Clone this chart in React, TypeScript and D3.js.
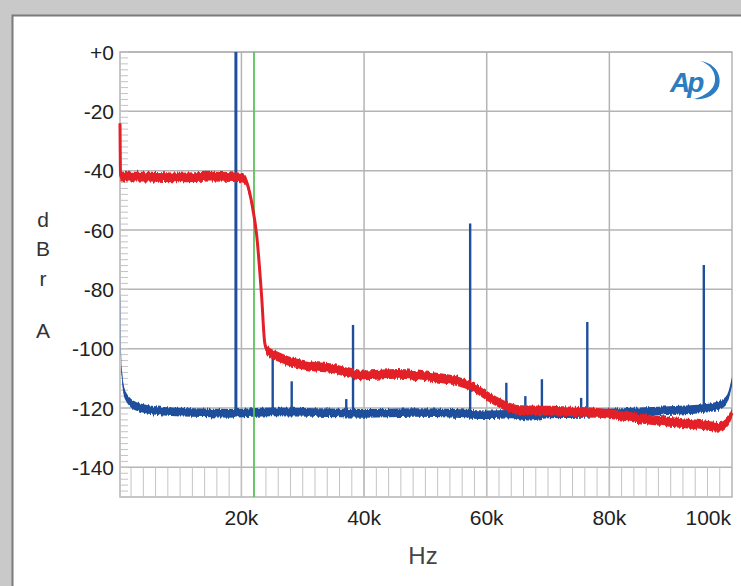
import * as d3 from "d3";

// Frequencies in Hz, levels in dBrA.
const redFreq = [200, 300, 1000, 5000, 10000, 15000, 20000, 20600, 21700, 22500, 23300, 23800, 24200, 26300, 31700, 34400, 39800, 45400, 50800, 55200, 57800, 60500, 63300, 65400, 72400, 78500, 86700, 94800, 98000, 99500, 100000];
const redDb = [-24, -42, -42, -42, -42.3, -42, -42.3, -43, -51, -62, -82.5, -98, -100.5, -103, -106, -106.5, -109, -108.5, -109.5, -111, -113, -116.5, -119.5, -120.7, -121, -121.7, -124, -125.7, -126.4, -124, -121.7];

const blueFreq = [200, 480, 1000, 2900, 6700, 12000, 18000, 25000, 32000, 40000, 48000, 55000, 60000, 64000, 67000, 70000, 76000, 82000, 88000, 95000, 98000, 99200, 100000];
const blueDb = [-82.7, -107.5, -115.5, -119.5, -121, -121.5, -121.8, -121.3, -121.5, -121.8, -121.5, -121.8, -122.3, -122, -122.8, -122, -121.8, -121.5, -121, -120.3, -119, -117, -111];

const spikeFreq = [19100, 25100, 28200, 37100, 38200, 57300, 63200, 66300, 69000, 75400, 76400, 95400];
const spikeDb = [0, -103, -111, -117, -92, -57.8, -111.5, -116, -110.3, -116.6, -91, -71.8];

const cutoffFreq = 22050;

const yTicks = [0, -20, -40, -60, -80, -100, -120, -140];
const yTickLabels = ["+0", "-20", "-40", "-60", "-80", "-100", "-120", "-140"];
const xTicks = [20000, 40000, 60000, 80000, 100000];
const xTickLabels = ["20k", "40k", "60k", "80k", "100k"];
const yLabel = ["d", "B", "r", "A"];

const W = 741;
const H = 586;
const left = 120;
const right = 732;
const top = 52;
const bottom = 497;
const font = "'Liberation Sans', Arial, sans-serif";

export default function App() {
  const x = d3.scaleLinear().domain([200, 100000]).range([left, right]);
  const y = d3.scaleLinear().domain([0, -150]).range([top, bottom]);

  const red = redFreq.map((f, i) => [f, redDb[i]] as [number, number]);
  const blue = blueFreq.map((f, i) => [f, blueDb[i]] as [number, number]);

  // noisy FFT traces look like a band of constant vertical thickness
  const band = (h: number) =>
    d3
      .area<[number, number]>()
      .x((d) => x(d[0]))
      .y0((d) => y(d[1]) - h)
      .y1((d) => y(d[1]) + h)
      .curve(d3.curveMonotoneX);
  const line = d3
    .line<[number, number]>()
    .x((d) => x(d[0]))
    .y((d) => y(d[1]))
    .curve(d3.curveMonotoneX);

  const blueAt = d3.scaleLinear().domain(blueFreq).range(blueDb);

  const minorY = d3.range(0, -151, -2);
  const minorX = d3.range(2000, 100000, 2000);

  return (
    <svg width={W} height={H} style={{ position: "absolute", left: 0, top: 0, background: "#c9c9c9" }}>
      <defs>
        {/* jagged vertical texture of the measured noise */}
        <filter id="fuzz" filterUnits="userSpaceOnUse" x={0} y={0} width={W} height={H}>
          <feTurbulence type="fractalNoise" baseFrequency="0.6 0.02" numOctaves={2} seed={3} result="n" />
          <feColorMatrix in="n" type="matrix" values="0 0 0 0 0.5  0 1 0 0 0  0 0 0 0 0  0 0 0 0 1" result="m" />
          <feDisplacementMap in="SourceGraphic" in2="m" scale={5} xChannelSelector="R" yChannelSelector="G" />
        </filter>
      </defs>
      <rect x={12} y={15} width={W - 12} height={H - 15} fill="#fff" />
      <path d={`M12.5,${H}V15.5H${W}`} fill="none" stroke="#7b7b7b" strokeWidth={2} />

      {/* grid */}
      <g stroke="#b4b4b4" strokeWidth={1.5} fill="none">
        {yTicks.map((t) => (
          <line key={t} x1={left} x2={right} y1={y(t)} y2={y(t)} />
        ))}
        {xTicks.slice(0, 4).map((t) => (
          <line key={t} x1={x(t)} x2={x(t)} y1={top} y2={bottom} />
        ))}
        <rect x={left} y={top} width={right - left} height={bottom - top} />
      </g>
      <g stroke="#c4c4c4" strokeWidth={1}>
        {minorY.map((t) => (
          <line key={t} x1={left} x2={left + 8} y1={y(t)} y2={y(t)} />
        ))}
        {minorX.map((t) => (
          <line key={t} x1={x(t)} x2={x(t)} y1={y(-140)} y2={bottom} />
        ))}
      </g>

      {/* blue trace + spikes */}
      <g filter="url(#fuzz)">
        <path d={band(4.3)(blue) ?? ""} fill="#1f4f9c" />
      </g>
      <path d={band(2.6)(blue) ?? ""} fill="#1f4f9c" />
      {spikeFreq.map((f, i) => (
        <line
          key={f}
          x1={x(f)}
          x2={x(f)}
          y1={y(blueAt(f))}
          y2={y(spikeDb[i])}
          stroke="#1f4f9c"
          strokeWidth={spikeDb[i] > -20 ? 3 : 2.4}
        />
      ))}

      <line x1={x(cutoffFreq)} x2={x(cutoffFreq)} y1={top} y2={bottom} stroke="#5cc35a" strokeWidth={1.8} />

      {/* red trace */}
      <g filter="url(#fuzz)">
        <path d={band(4.8)(red) ?? ""} fill="#e32028" />
      </g>
      <path d={band(3)(red) ?? ""} fill="#e32028" />
      <path d={line(red) ?? ""} fill="none" stroke="#e32028" strokeWidth={3} />

      {/* axis labels */}
      <g fontFamily={font} fontSize={21} fill="#222">
        {yTicks.map((t, i) => (
          <text key={t} x={114} y={y(t)} dy="0.36em" textAnchor="end">
            {yTickLabels[i]}
          </text>
        ))}
        {xTicks.map((t, i) => (
          <text key={t} x={i === 4 ? 731 : x(t)} y={517} dy="0.36em" textAnchor={i === 4 ? "end" : "middle"}>
            {xTickLabels[i]}
          </text>
        ))}
      </g>
      <g fontFamily={font} fontSize={21} fill="#333" textAnchor="middle">
        {yLabel.map((c, i) => (
          <text key={c} x={43} y={[227, 256, 286, 338][i]}>
            {c}
          </text>
        ))}
      </g>
      <text x={423} y={564} fontFamily={font} fontSize={24} fill="#444" textAnchor="middle">
        Hz
      </text>

      {/* AP logo */}
      <g fill="#2b7cc0">
        <text x={670} y={92} fontFamily={font} fontSize={28} fontStyle="italic" fontWeight="bold" letterSpacing={-3}>
          Ap
        </text>
        <path d="M700,61 C716,63 722,76 719,86 C716,95 706,100 694,99 C705,96 714,90 715,81 C716,72 710,64 700,61 Z" />
      </g>
    </svg>
  );
}
